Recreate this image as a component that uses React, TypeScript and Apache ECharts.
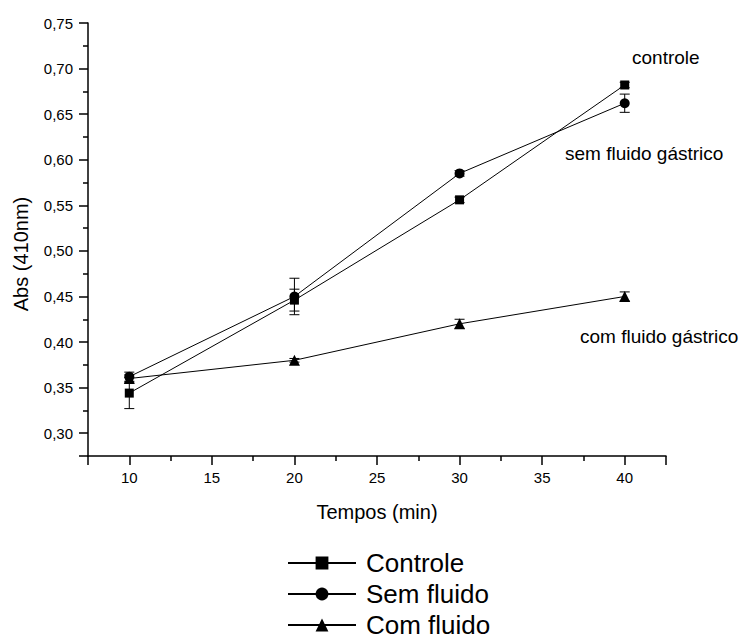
import React, { useEffect, useRef } from "react";
import * as echarts from "echarts";

const times = [10, 20, 30, 40];
const controle = [0.344, 0.446, 0.556, 0.682];
const controleErr = [0.017, 0.012, 0.003, 0.003];
const semFluido = [0.362, 0.45, 0.585, 0.662];
const semFluidoErr = [0.005, 0.02, 0.003, 0.01];
const comFluido = [0.36, 0.38, 0.42, 0.45];
const comFluidoErr = [0.004, 0.002, 0.005, 0.005];
const seriesNames = ["Controle", "Sem fluido", "Com fluido"];
const annotations = ["controle", "sem fluido gástrico", "com fluido gástrico"];
const xTitle = "Tempos (min)";
const yTitle = "Abs (410nm)";

const FONT = "'Liberation Sans', Arial, Helvetica, sans-serif";

export default function App() {
  const ref = useRef<HTMLDivElement>(null);
  useEffect(() => {
    const chart = echarts.init(ref.current!, null, { renderer: "svg" });
    const errSeries = (name: string, vals: number[], errs: number[]) => ({
      type: "custom",
      name: name + " err",
      silent: true,
      z: 1,
      data: times.map((t, i) => [t, vals[i] - errs[i], vals[i] + errs[i]]),
      encode: { x: 0, y: [1, 2] },
      renderItem: (_params: any, api: any) => {
        const x = api.value(0);
        const lo = api.coord([x, api.value(1)]);
        const hi = api.coord([x, api.value(2)]);
        const w = 5;
        const st = { stroke: "#000", lineWidth: 1 };
        return {
          type: "group",
          children: [
            { type: "line", shape: { x1: lo[0], y1: lo[1], x2: hi[0], y2: hi[1] }, style: st },
            { type: "line", shape: { x1: lo[0] - w, y1: lo[1], x2: lo[0] + w, y2: lo[1] }, style: st },
            { type: "line", shape: { x1: hi[0] - w, y1: hi[1], x2: hi[0] + w, y2: hi[1] }, style: st },
          ],
        };
      },
    });
    const lineSeries = (name: string, vals: number[], symbol: string, size: number) => ({
      type: "line",
      name,
      z: 3,
      data: times.map((t, i) => [t, vals[i]]),
      symbol,
      symbolSize: size,
      showAllSymbol: true,
      itemStyle: { color: "#000" },
      lineStyle: { color: "#000", width: 1 },
    });
    const annStyle = (text: string) => ({
      text,
      fontSize: 19,
      fontFamily: FONT,
      fill: "#000",
      verticalAlign: "middle",
    });
    chart.setOption({
      animation: false,
      backgroundColor: "#fff",
      textStyle: { fontFamily: FONT },
      grid: { left: 88, right: 87, top: 23, bottom: 184 },
      legend: {
        data: seriesNames,
        orient: "vertical",
        left: 287,
        top: 550,
        height: 90,
        padding: 0,
        itemWidth: 68,
        itemHeight: 16,
        itemGap: 5,
        textStyle: { fontSize: 26, color: "#000", fontFamily: FONT, lineHeight: 26, padding: [0, 0, 0, 5] },
      },
      xAxis: {
        type: "value",
        min: 7.5,
        max: 42.5,
        splitNumber: 7,
        name: xTitle,
        nameLocation: "middle",
        nameGap: 46,
        nameTextStyle: { fontSize: 20, color: "#000", fontFamily: FONT },
        axisLine: { onZero: false, lineStyle: { color: "#000", width: 1.5 } },
        axisTick: { length: 9, lineStyle: { color: "#000", width: 1.5 } },
        minorTick: { show: true, splitNumber: 2, length: 5, lineStyle: { color: "#000", width: 1.5 } },
        axisLabel: { showMinLabel: false, showMaxLabel: false, fontSize: 15, color: "#000", margin: 14, fontFamily: FONT },
        splitLine: { show: false },
      },
      yAxis: {
        type: "value",
        min: 0.275,
        max: 0.75,
        splitNumber: 10,
        axisLine: { onZero: false, lineStyle: { color: "#000", width: 1.5 } },
        axisTick: { length: 9, lineStyle: { color: "#000", width: 1.5 } },
        minorTick: { show: true, splitNumber: 2, length: 5, lineStyle: { color: "#000", width: 1.5 } },
        axisLabel: {
          showMinLabel: false,
          fontSize: 15,
          color: "#000",
          margin: 15,
          fontFamily: FONT,
          formatter: (v: number) => v.toFixed(2).replace(".", ","),
        },
        splitLine: { show: false },
      },
      graphic: [
        {
          type: "text",
          x: 21,
          y: 254,
          rotation: Math.PI / 2,
          style: { text: yTitle, fontSize: 20, fontFamily: FONT, fill: "#000", align: "center", verticalAlign: "middle" },
        },
        { type: "text", x: 632, y: 57, style: annStyle(annotations[0]) },
        { type: "text", x: 565, y: 153, style: annStyle(annotations[1]) },
        { type: "text", x: 580, y: 336, style: annStyle(annotations[2]) },
      ],
      series: [
        errSeries("Controle", controle, controleErr),
        errSeries("Sem fluido", semFluido, semFluidoErr),
        errSeries("Com fluido", comFluido, comFluidoErr),
        lineSeries("Controle", controle, "rect", 9),
        lineSeries("Sem fluido", semFluido, "circle", 10),
        lineSeries("Com fluido", comFluido, "triangle", 11),
      ],
    });
    return () => chart.dispose();
  }, []);
  return <div ref={ref} style={{ position: "absolute", left: 0, top: 0, width: 753, height: 640 }} />;
}
